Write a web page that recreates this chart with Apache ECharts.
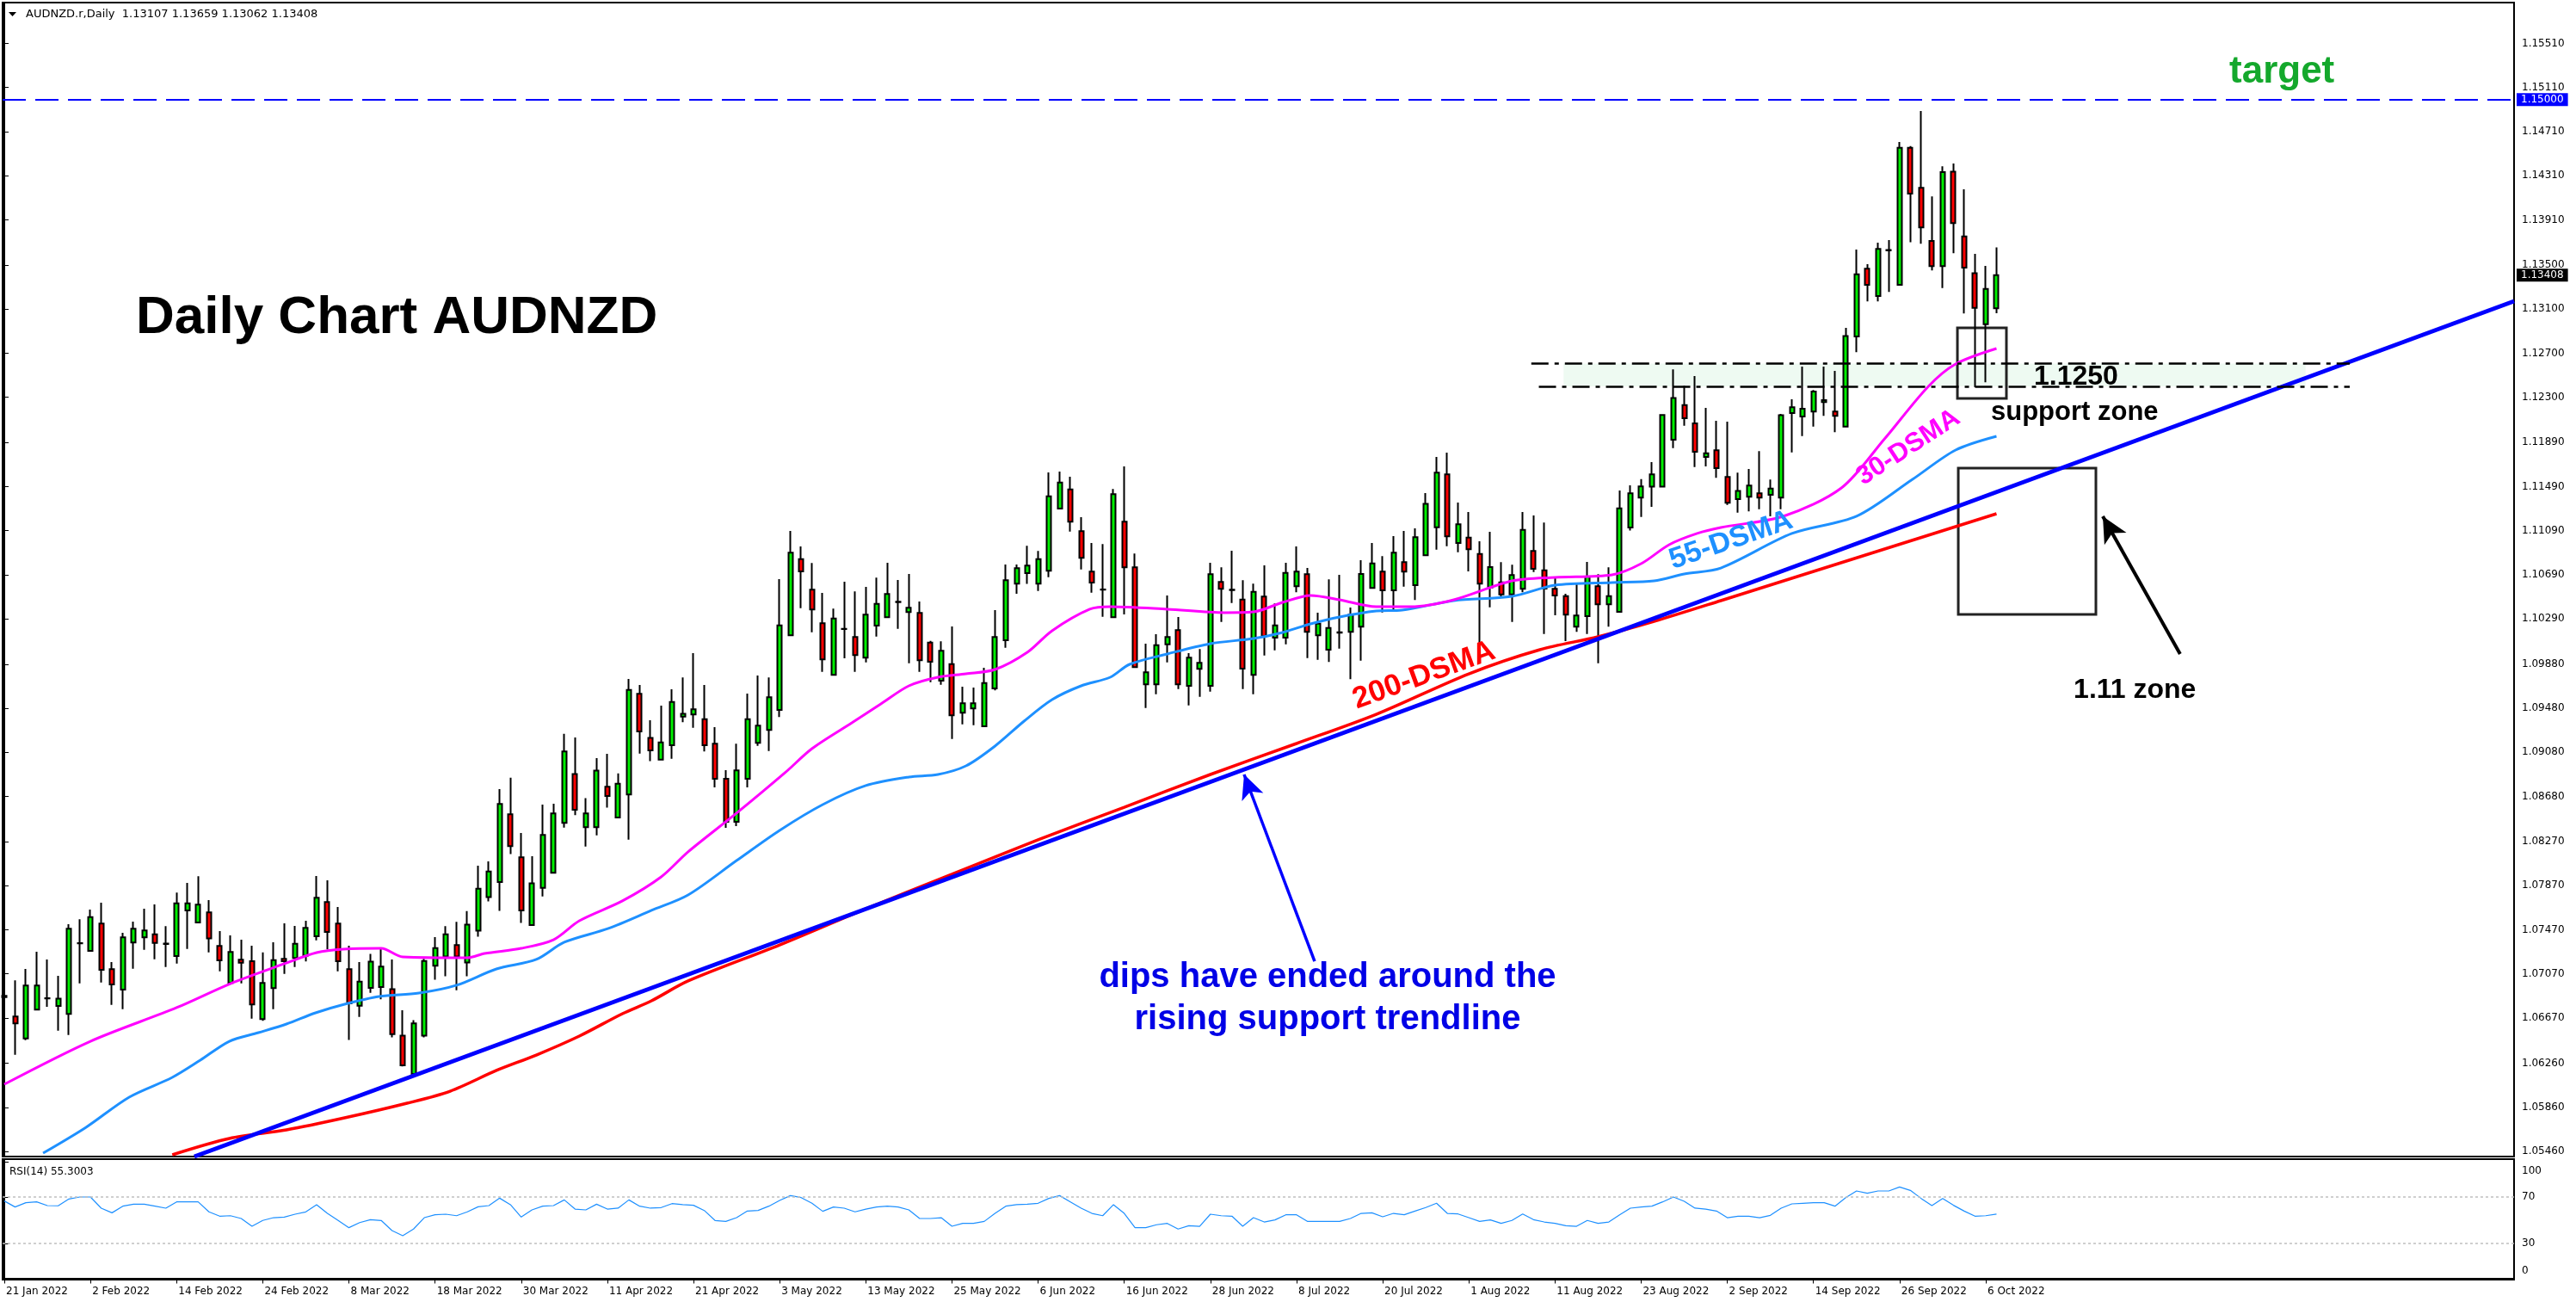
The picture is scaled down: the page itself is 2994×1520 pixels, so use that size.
<!DOCTYPE html>
<html><head><meta charset="utf-8">
<script src="https://cdn.jsdelivr.net/npm/echarts@6/dist/echarts.min.js"></script>
<style>html,body{margin:0;padding:0;background:#fff;}#c{width:2994px;height:1520px;}</style>
</head><body><div id="c"></div>
<script>
// ---------- data ----------
const xLabels = ['21 Jan 2022','2 Feb 2022','14 Feb 2022','24 Feb 2022','8 Mar 2022','18 Mar 2022','30 Mar 2022','11 Apr 2022','21 Apr 2022','3 May 2022','13 May 2022','25 May 2022','6 Jun 2022','16 Jun 2022','28 Jun 2022','8 Jul 2022','20 Jul 2022','1 Aug 2022','11 Aug 2022','23 Aug 2022','2 Sep 2022','14 Sep 2022','26 Sep 2022','6 Oct 2022'];
const xLabelIdx = [0,8,16,24,32,40,48,56,64,72,80,88,96,104,112,120,128,136,144,152,160,168,176,184];
const priceTicks = [1.0546,1.0586,1.0626,1.0667,1.0707,1.0747,1.0787,1.0827,1.0868,1.0908,1.0948,1.0988,1.1029,1.1069,1.1109,1.1149,1.1189,1.1230,1.1270,1.1310,1.1350,1.1391,1.1431,1.1471,1.1511,1.1551];
const rsiTicks = [0,30,70,100];

const open = [1.0686,1.06683,1.06485,1.06746,1.06847,1.06779,1.06707,1.07347,1.07279,1.07526,
1.07112,1.06928,1.07354,1.07401,1.0743,1.07342,1.07232,1.07646,1.07536,1.07628,
1.07323,1.06988,1.07198,1.07185,1.0666,1.06941,1.07206,1.07214,1.07234,1.07412,
1.07721,1.07526,1.07112,1.06782,1.06944,1.0695,1.06931,1.06509,1.06163,1.06509,
1.07145,1.07229,1.07332,1.07173,1.07463,1.07767,1.07903,1.08517,1.08127,1.07513,
1.0785,1.07987,1.08439,1.08882,1.084,1.084,1.08767,1.08489,1.08698,1.0961,
1.09211,1.09013,1.09144,1.09403,1.09423,1.09381,1.09158,1.0884,1.0845,1.0884,
1.09166,1.09283,1.09464,1.10141,1.10833,1.10555,1.10251,1.09782,1.10198,1.10126,
1.09938,1.10229,1.10305,1.10443,1.10352,1.10344,1.10076,1.0973,1.09881,1.09439,
1.09478,1.09316,1.0966,1.10097,1.1061,1.10706,1.1061,1.10727,1.11291,1.11465,
1.11086,1.10719,1.10555,1.10305,1.11172,1.10758,1.09696,1.09696,1.1006,1.10188,
1.09683,1.09837,1.09683,1.10625,1.10552,1.10466,1.09782,1.10493,1.1012,1.1012,
1.10586,1.10695,1.10141,1.10011,1.10165,1.10172,1.10219,1.10571,1.10719,1.1055,
1.10805,1.10596,1.10867,1.11122,1.11601,1.10979,1.11028,1.1088,1.10575,1.10622,
1.10513,1.10563,1.10906,1.10731,1.10563,1.10497,1.10219,1.10315,1.10586,1.10422,
1.10354,1.11119,1.1139,1.11489,1.11489,1.11916,1.1223,1.12064,1.1176,1.1182,
1.11578,1.11377,1.11398,1.11429,1.11416,1.1139,1.12158,1.12126,1.12171,1.12257,
1.12171,1.12035,1.12853,1.13467,1.13219,1.13633,1.13321,1.14564,1.142,1.13719,
1.1349,1.14346,1.1376,1.13425,1.12964,1.13107];
const high = [1.07136,1.07011,1.07115,1.07271,1.07201,1.07052,1.07521,1.07565,1.07653,1.07716,
1.07177,1.07443,1.07544,1.07661,1.077,1.07503,1.07807,1.07895,1.07956,1.07739,
1.07458,1.07419,1.0738,1.07326,1.07266,1.07357,1.07529,1.07505,1.07552,1.07958,
1.07919,1.07677,1.07326,1.07178,1.07251,1.07295,1.07201,1.06741,1.06651,1.07206,
1.07404,1.07504,1.07543,1.07639,1.08051,1.0809,1.08746,1.08849,1.08349,1.08137,
1.08606,1.08614,1.09247,1.09214,1.08664,1.09027,1.09066,1.08888,1.09746,1.0969,
1.0937,1.09503,1.09651,1.0976,1.0998,1.09691,1.09308,1.08918,1.09158,1.09613,
1.09777,1.09759,1.10651,1.11088,1.10948,1.10797,1.10526,1.10383,1.10628,1.10539,
1.10581,1.10664,1.10799,1.10643,1.10698,1.10448,1.1009,1.10087,1.10222,1.09675,
1.09667,1.09847,1.1037,1.10784,1.10784,1.10953,1.10906,1.11619,1.11627,1.1158,
1.11213,1.10979,1.10969,1.11468,1.11674,1.10883,1.10066,1.10151,1.10503,1.10308,
1.0998,1.10016,1.10799,1.10758,1.10909,1.10641,1.1061,1.10776,1.1043,1.10799,
1.10948,1.10753,1.10347,1.10649,1.1069,1.10393,1.10823,1.10979,1.10859,1.11041,
1.11088,1.11112,1.11432,1.1176,1.11799,1.11346,1.1126,1.10995,1.1108,1.10805,
1.10781,1.1126,1.11229,1.11164,1.10669,1.10518,1.10604,1.10807,1.10695,1.10758,
1.11455,1.11502,1.11559,1.11713,1.12147,1.12553,1.12405,1.12493,1.12204,1.12087,
1.1208,1.11617,1.1165,1.11812,1.11554,1.1215,1.12282,1.12579,1.12366,1.12579,
1.1254,1.12931,1.13641,1.13508,1.13703,1.13727,1.14616,1.1458,1.14898,1.14122,
1.14396,1.14421,1.14187,1.13602,1.13492,1.13659];
const low = [1.0675,1.06337,1.06469,1.0674,1.06771,1.06555,1.06516,1.06985,1.07275,1.06992,
1.06789,1.0675,1.07117,1.07289,1.07203,1.07133,1.07164,1.07297,1.0753,1.07266,
1.07094,1.06985,1.06985,1.06665,1.06644,1.0675,1.0707,1.07133,1.07183,1.07375,
1.07292,1.07094,1.0647,1.06679,1.06899,1.06839,1.06495,1.0623,1.0616,1.06495,
1.07017,1.07048,1.06922,1.07048,1.07407,1.07728,1.07641,1.08157,1.07532,1.0751,
1.07772,1.07985,1.08397,1.08511,1.08226,1.08327,1.08578,1.08485,1.08288,1.09069,
1.08999,1.0901,1.09021,1.09353,1.09303,1.09087,1.08762,1.08395,1.08411,1.08762,
1.09139,1.09092,1.094,1.10135,1.10388,1.10169,1.0981,1.0978,1.09933,1.0981,
1.09896,1.1013,1.103,1.10201,1.09888,1.0981,1.09717,1.09693,1.09201,1.09334,
1.09326,1.0931,1.09642,1.10029,1.10518,1.10607,1.10544,1.10669,1.11288,1.11083,
1.10739,1.10528,1.1031,1.103,1.10331,1.0985,1.09482,1.09607,1.09896,1.09654,
1.09506,1.09584,1.09631,1.10263,1.10435,1.09654,1.09607,1.09959,1.10005,1.1006,
1.10532,1.09935,1.0992,1.09899,1.10021,1.09743,1.09912,1.10568,1.10349,1.10375,
1.10583,1.10461,1.10865,1.10919,1.1095,1.10895,1.10721,1.10071,1.10396,1.10485,
1.10263,1.10532,1.10716,1.10154,1.10323,1.10089,1.10172,1.10154,1.09888,1.10219,
1.1035,1.11091,1.11215,1.11307,1.11485,1.1184,1.12043,1.11668,1.11674,1.1157,
1.11325,1.11254,1.11265,1.11286,1.11221,1.11286,1.11801,1.11949,1.12035,1.12132,
1.11984,1.12027,1.1271,1.1317,1.1317,1.13256,1.13318,1.13706,1.13693,1.13451,
1.13292,1.13607,1.13061,1.12392,1.12436,1.13062];
const close = [1.0687,1.06621,1.06964,1.06964,1.0685,1.06845,1.07479,1.0735,1.07586,1.07107,
1.06974,1.07401,1.07479,1.07464,1.07351,1.07345,1.0771,1.0771,1.07698,1.07391,
1.07193,1.07269,1.07172,1.06792,1.06988,1.07195,1.07185,1.07344,1.07487,1.0776,
1.07451,1.07185,1.06802,1.07,1.07181,1.07137,1.06523,1.06241,1.06621,1.07187,
1.07304,1.0743,1.07229,1.07516,1.07842,1.07998,1.08611,1.0823,1.07646,1.07892,
1.0833,1.08525,1.09088,1.08558,1.08525,1.08915,1.08684,1.08796,1.09646,1.09269,
1.09097,1.09169,1.09537,1.09429,1.0947,1.09144,1.0884,1.0845,1.08916,1.09381,
1.09322,1.09579,1.10232,1.10891,1.10721,1.10375,1.09923,1.10294,1.102,1.09962,
1.10329,1.10427,1.10516,1.10445,1.10391,1.09915,1.09902,1.10001,1.09415,1.09525,
1.09525,1.09709,1.10126,1.10641,1.1075,1.10774,1.10833,1.11403,1.11528,1.11172,
1.10844,1.1062,1.10558,1.11421,1.10758,1.09853,1.09806,1.10052,1.10126,1.09696,
1.09938,1.09891,1.10695,1.10563,1.10555,1.09839,1.10536,1.10133,1.10232,1.10708,
1.10719,1.10172,1.10247,1.10208,1.10168,1.10329,1.10698,1.10794,1.1055,1.10891,
1.10719,1.11031,1.11333,1.11617,1.11039,1.11148,1.10922,1.1061,1.1076,1.10513,
1.10688,1.11098,1.10745,1.10565,1.10503,1.10329,1.10321,1.10674,1.10422,1.10497,
1.11293,1.11429,1.11492,1.11601,1.1214,1.12293,1.12111,1.11806,1.11793,1.11658,
1.11343,1.1145,1.115,1.1139,1.11473,1.12137,1.1221,1.12197,1.12353,1.12275,
1.12132,1.12855,1.13417,1.13321,1.13646,1.13636,1.14564,1.14148,1.13841,1.1349,
1.14343,1.1388,1.13477,1.13112,1.13284,1.13408];
const rsi = [66.6,61.4,65.1,65.8,62.6,62.4,68.3,70.0,70.0,60.4,
56.4,62.1,63.8,63.8,62.1,60.4,65.8,65.8,65.8,57.2,
53.5,53.9,51.5,44.8,49.8,52.2,52.7,55.2,57.2,63.4,
55.9,49.8,43.6,48.0,50.5,49.8,41.1,36.7,42.4,52.2,
54.7,55.2,53.9,57.2,61.6,62.6,69.0,63.4,52.7,58.9,
62.1,62.6,67.5,59.6,58.9,63.8,59.6,60.4,67.5,62.1,
60.4,60.9,64.3,63.4,62.9,58.4,49.8,49.0,52.2,57.9,
58.4,62.1,67.1,71.2,69.5,64.6,57.7,61.4,60.4,57.2,
59.6,61.4,62.1,61.4,58.9,51.5,51.5,52.2,44.8,47.3,
47.3,49.0,55.9,62.1,63.4,63.8,64.6,68.8,71.2,65.8,
60.4,55.9,53.9,63.4,55.9,43.6,43.6,46.1,47.3,42.4,
45.3,44.8,55.2,53.9,53.5,44.8,52.2,48.5,50.3,54.7,
54.7,49.0,49.0,49.0,49.0,51.5,55.9,56.4,53.0,55.9,
54.7,57.9,60.9,64.6,55.9,55.4,52.2,49.0,50.3,47.3,
49.8,55.4,50.5,48.5,47.3,45.3,44.8,49.8,47.3,48.5,
54.7,60.4,61.4,62.1,65.8,70.0,66.3,60.4,59.6,57.9,
52.2,53.5,53.5,52.2,54.2,60.4,64.1,64.6,65.1,65.1,
62.1,69.5,75.2,73.2,75.2,75.2,78.6,75.7,68.8,62.6,
68.8,62.9,57.9,53.5,53.9,55.3];
// moving averages: [bar index, value]
const sma30 = [[0,1.06069],[8,1.06459],[16,1.06764],[21,1.06982],[26,1.07162],[29,1.07263],[31.5,1.07294],[35,1.07302],[37,1.07224],[43,1.07216],[44.6,1.07255],[48,1.07302],[51,1.0738],[53.4,1.07552],[57.4,1.07732],[61,1.0795],[63.5,1.08177],[68,1.08528],[72.5,1.08895],[75,1.09113],[78.7,1.09347],[81.4,1.09519],[84,1.09683],[86.7,1.09761],[89.3,1.09792],[92,1.09831],[95,1.09987],[97.3,1.10183],[100.8,1.10378],[102.7,1.10401],[108,1.10378],[113.3,1.10347],[116,1.10354],[118.7,1.1044],[121.3,1.10503],[124,1.10464],[127.4,1.10401],[130.6,1.10401],[134.6,1.10464],[140,1.10635],[144,1.10667],[149.3,1.1069],[152,1.10791],[154.6,1.10963],[157.2,1.11065],[159.4,1.11119],[165.2,1.11221],[170.6,1.11478],[174.6,1.11923],[178.6,1.12392],[181.2,1.12602],[185,1.12743]];
const sma55 = [[3.6,1.05444],[7.6,1.05679],[11.6,1.05952],[15.6,1.06131],[18.2,1.06287],[20.9,1.06459],[23.6,1.06537],[26.2,1.06615],[28.9,1.06717],[31.6,1.06795],[34.8,1.06865],[38.5,1.06896],[42,1.06967],[45.7,1.07115],[49.4,1.07201],[52,1.07357],[56.1,1.07482],[60.1,1.07646],[63.5,1.07786],[68,1.08098],[72,1.08372],[76,1.08606],[80,1.08778],[84,1.08856],[86.7,1.08879],[89.3,1.08957],[92,1.09137],[94.7,1.09363],[97.3,1.09558],[100,1.09683],[102.7,1.09761],[104.5,1.09878],[108,1.09972],[112,1.10066],[116,1.10112],[118.7,1.10167],[121.3,1.10245],[124,1.10308],[127.4,1.10362],[129.8,1.1037],[134.6,1.10456],[140,1.10495],[144,1.10596],[149.3,1.1062],[153.2,1.10635],[156,1.10698],[159.4,1.10752],[166,1.11065],[172,1.11221],[177.2,1.11556],[181.2,1.11822],[185,1.11947]];
const sma200 = [[15.6,1.05429],[20.9,1.05577],[26.2,1.05655],[31.6,1.05764],[37.4,1.05897],[41.4,1.06006],[45.7,1.06194],[49.4,1.06334],[53.4,1.06506],[57.4,1.06709],[60.1,1.06826],[63.5,1.07006],[72,1.07333],[80,1.07661],[88,1.07974],[96,1.08286],[104,1.08582],[112,1.08879],[120,1.0916],[127.4,1.09425],[136,1.09792],[142.6,1.10011],[148,1.10128],[153.2,1.10268],[159.4,1.10456],[185,1.11244]];
const trendPts = [[17.65,1.054132],[233.06,1.131723]];
const targetLevel = 1.15;
const lastPrice = 1.13408;
const supportTop = 1.12610, supportBottom = 1.12396;

// ---------- chart ----------
const FONT = 'DejaVu Sans';
const XMIN = -0.16, XMAX = 233.06;
const candles = open.map((o,i)=>[i,o,close[i],low[i],high[i]]);
const rsiData = rsi.map((v,i)=>[i,v]);
const lbl = {fontFamily:FONT, fontSize:12, color:'#000'};

const chart = echarts.init(document.getElementById('c'), null, {renderer:'canvas'});
const option = {
  animation:false,
  backgroundColor:'#ffffff',
  grid:[
    {left:3, top:3, width:2919, height:1341, show:true, borderColor:'#000', borderWidth:2, backgroundColor:'transparent'},
    {left:3, top:1347, width:2919, height:140, show:true, borderColor:'#000', borderWidth:2, backgroundColor:'transparent'}
  ],
  xAxis:[
    {type:'value', gridIndex:0, min:XMIN, max:XMAX, axisLine:{show:false}, axisTick:{show:false}, axisLabel:{show:false}, splitLine:{show:false}},
    {type:'value', gridIndex:1, min:XMIN, max:XMAX, axisLine:{show:true, lineStyle:{color:'#000',width:2}},
      axisTick:{show:true, customValues:xLabelIdx, length:6, lineStyle:{color:'#000'}},
      axisLabel:{show:true, customValues:xLabelIdx, align:'left', margin:8, padding:[0,0,0,2], fontFamily:FONT, fontSize:12, color:'#000',
        formatter:v=>{const k=xLabelIdx.indexOf(Math.round(v)); return k>=0?xLabels[k]:'';}},
      splitLine:{show:false}}
  ],
  yAxis:[
    {type:'value', gridIndex:0, position:'right', min:1.054132, max:1.158807, scale:true,
      axisLine:{show:true, lineStyle:{color:'#000',width:2}},
      axisTick:{show:true, customValues:priceTicks, length:5, lineStyle:{color:'#000'}},
      axisLabel:{show:true, customValues:priceTicks, margin:9, fontFamily:FONT, fontSize:12, color:'#000', formatter:v=>v.toFixed(5)},
      splitLine:{show:false}},
    {type:'value', gridIndex:1, position:'right', min:-1.1, max:102.6,
      axisLine:{show:true, lineStyle:{color:'#000',width:2}},
      axisTick:{show:true, customValues:rsiTicks, length:5, lineStyle:{color:'#000'}},
      axisLabel:{show:true, showMaxLabel:true, customValues:rsiTicks.slice(1), margin:9, fontFamily:FONT, fontSize:12, color:'#000',
        formatter:v=> v===100 ? '{t|100}' : '{m|'+v+'}',
        rich:{t:Object.assign({padding:[20,0,0,0]},lbl), m:Object.assign({},lbl)}},
      splitLine:{show:false}}
  ],
  series:[
    {name:'zone', type:'line', xAxisIndex:0, yAxisIndex:0, data:[[150,1.125]], symbol:'none', lineStyle:{opacity:0}, z:1, silent:true,
      markArea:{silent:true, itemStyle:{color:'#eefaf2'}, data:[[{coord:[144.8,supportBottom+0.00004]},{coord:[213.7,supportTop-0.00004]}]]}},
    {name:'AUDNZD', type:'candlestick', xAxisIndex:0, yAxisIndex:0, data:candles, z:2,
      dimensions:['idx','open','close','lowest','highest'],
      encode:{x:'idx', y:['open','close','lowest','highest']},
      barWidth:5.5,
      itemStyle:{color:'#00ee00', color0:'#ff0000', borderColor:'#000', borderColor0:'#000', borderColorDoji:'#000', borderWidth:2}},
    {name:'200-DSMA', type:'line', xAxisIndex:0, yAxisIndex:0, data:sma200, symbol:'none', smooth:0.3, z:3, lineStyle:{color:'#ff0000', width:3.5}},
    {name:'55-DSMA', type:'line', xAxisIndex:0, yAxisIndex:0, data:sma55, symbol:'none', smooth:0.3, z:3, lineStyle:{color:'#1e90ff', width:3}},
    {name:'30-DSMA', type:'line', xAxisIndex:0, yAxisIndex:0, data:sma30, symbol:'none', smooth:0.3, z:3, lineStyle:{color:'#ff00ff', width:3}},
    {name:'trend', type:'line', xAxisIndex:0, yAxisIndex:0, data:trendPts, symbol:'none', z:4, lineStyle:{color:'#0000ff', width:5},
      markLine:{silent:true, symbol:['none','none'], label:{show:false}, animation:false,
        data:[
          {yAxis:targetLevel, lineStyle:{color:'#0000ff', width:2, type:[27,11]},
            label:{show:true, position:'end', formatter:'1.15000', color:'#fff', backgroundColor:'#0000ff', padding:[2,5,1,5], distance:3, fontFamily:FONT, fontSize:12}},
          [{coord:[141.8,supportTop], lineStyle:{color:'#000', width:2.5, type:[20,7,5,7]}},{coord:[217.8,supportTop]}],
          [{coord:[142.5,supportBottom], lineStyle:{color:'#000', width:2.5, type:[20,7,5,7]}},{coord:[217.8,supportBottom]}],
          [{coord:[202.05,1.09972], symbol:'none', lineStyle:{color:'#000', width:4, type:'solid'}},{coord:[194.87,1.11221], symbol:'arrow', symbolSize:[22,30]}],
          [{coord:[121.68,1.07185], symbol:'none', lineStyle:{color:'#0000ff', width:3.5, type:'solid'}},{coord:[115.13,1.08879], symbol:'arrow', symbolSize:[20,28]}]
        ]},
      markArea:{silent:true, itemStyle:{color:'rgba(0,0,0,0)', borderColor:'#222', borderWidth:3},
        data:[
          [{coord:[181.37,1.1229]},{coord:[185.92,1.1293]}],
          [{coord:[181.45,1.10331]},{coord:[194.23,1.11658]}]
        ]}},
    {name:'RSI(14)', type:'line', xAxisIndex:1, yAxisIndex:1, data:rsiData, symbol:'none', lineStyle:{color:'#1e90ff', width:1.2},
      markLine:{silent:true, symbol:['none','none'], label:{show:false}, lineStyle:{color:'#c0c0c0', type:[3,3], width:1.5},
        data:[{yAxis:70},{yAxis:30}]}}
  ]
};
chart.setOption(option);

// ---------- annotations positioned in data space ----------
const notes = [
  {t:'Daily Chart AUDNZD', at:[12.22,1.13016], size:62, color:'#000', align:'left', rot:0},
  {t:'target', at:[211.5,1.15249], size:44, color:'#14a82c', align:'center', rot:0},
  {t:'1.1250', at:[188.48,1.12482], size:32, color:'#000', align:'left', rot:0},
  {t:'support zone', at:[184.48,1.12165], size:31, color:'#000', align:'left', rot:0},
  {t:'1.11 zone', at:[192.16,1.09644], size:32, color:'#000', align:'left', rot:0},
  {t:'dips have ended around the\nrising support trendline', at:[122.88,1.06846], size:40, color:'#0000e6', align:'center', rot:0, lh:49},
  {t:'200-DSMA', at:[131.83,1.09777], size:35, color:'#ff0000', align:'center', rot:20},
  {t:'55-DSMA', at:[160.35,1.11002], size:34, color:'#1e90ff', align:'center', rot:19},
  {t:'30-DSMA', at:[176.81,1.11845], size:31, color:'#ff00ff', align:'center', rot:33}
];
const toPx = v => chart.convertToPixel({xAxisIndex:0, yAxisIndex:0}, v);
const gfx = notes.map(n=>{
  const p = toPx(n.at);
  return {type:'text', x:p[0], y:p[1], rotation:n.rot*Math.PI/180, z:100, silent:true,
    style:{text:n.t, fill:n.color, font:'bold '+n.size+'px "Liberation Sans", Arial, sans-serif',
      align:n.align, verticalAlign:'middle', textAlign:n.align, textVerticalAlign:'middle', lineHeight:n.lh||n.size*1.2}};
});
// current price tag on the price axis
const lp = toPx([XMAX, lastPrice]);
gfx.push({type:'text', x:lp[0]+3, y:lp[1], z:120, silent:true,
  style:{text:lastPrice.toFixed(5), fill:'#fff', backgroundColor:'#000', padding:[2,5,1,5], font:'12px "DejaVu Sans"', verticalAlign:'middle', textVerticalAlign:'middle'}});
// RSI axis minimum label (kept inside the panel, as in the terminal)
const r0 = chart.convertToPixel({xAxisIndex:1, yAxisIndex:1}, [XMAX, rsiTicks[0]]);
gfx.push({type:'text', x:r0[0]+9, y:r0[1]-9, z:100, silent:true,
  style:{text:String(rsiTicks[0]), fill:'#000', font:'12px "DejaVu Sans"', verticalAlign:'middle', textVerticalAlign:'middle'}});
gfx.push({type:'polygon', z:100, silent:true, shape:{points:[[10,14],[19,14],[14.5,19]]}, style:{fill:'#000'}});
gfx.push({type:'text', x:30, y:17, z:100, silent:true, style:{text:'AUDNZD.r,Daily  1.13107 1.13659 1.13062 1.13408', fill:'#000', font:'13px "DejaVu Sans"', verticalAlign:'middle', textVerticalAlign:'middle'}});
gfx.push({type:'text', x:11, y:1362, z:100, silent:true, style:{text:'RSI(14) 55.3003', fill:'#000', font:'12px "DejaVu Sans"', verticalAlign:'middle', textVerticalAlign:'middle'}});
chart.setOption({graphic:gfx});
</script>
</body></html>
